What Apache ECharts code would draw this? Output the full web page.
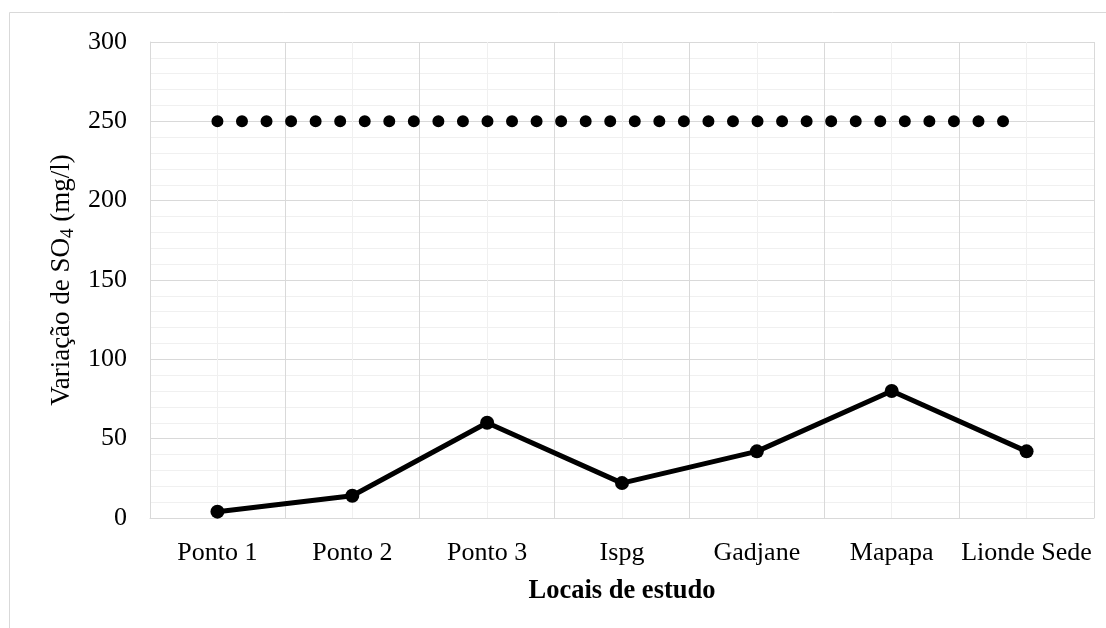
<!DOCTYPE html>
<html>
<head>
<meta charset="utf-8">
<script src="https://cdn.jsdelivr.net/npm/echarts@6/dist/echarts.min.js"></script>
<style>
html,body{margin:0;padding:0;background:#fff;}
#chart{width:1106px;height:628px;}
</style>
</head>
<body>
<div id="chart"></div>
<script>
var categories = ['Ponto 1', 'Ponto 2', 'Ponto 3', 'Ispg', 'Gadjane', 'Mapapa', 'Lionde Sede'];
var so4Values = [4, 14, 60, 22, 42, 80, 42];
var limitValues = [250, 250, 250, 250, 250, 250, 250];
var yTicks = [0, 50, 100, 150, 200, 250, 300];

var FONT = "'Liberation Serif', 'Times New Roman', serif";
var chart = echarts.init(document.getElementById('chart'), null, {renderer: 'canvas'});
chart.setOption({
  animation: false,
  backgroundColor: '#ffffff',
  graphic: [{
    type: 'rect', silent: true, z: -10,
    shape: {x: 9.5, y: 12.5, width: 1300, height: 800},
    style: {fill: 'none', stroke: '#d9d9d9', lineWidth: 1}
  }],
  grid: {left: 150, right: 12, top: 42, bottom: 110, containLabel: false},
  xAxis: [{
    type: 'value', position: 'top', min: 0, max: categories.length * 2, interval: 1,
    axisLine: {show: false}, axisTick: {show: false}, axisLabel: {show: false},
    splitLine: {show: true, lineStyle: {color: '#f0f0f0', width: 1}}
  }, {
    type: 'category', position: 'bottom', data: categories, boundaryGap: true,
    axisLine: {show: true, lineStyle: {color: '#d9d9d9', width: 1}},
    axisTick: {show: false},
    axisLabel: {color: '#000', fontFamily: FONT, fontSize: 26, margin: 22, interval: 0},
    splitLine: {show: true, lineStyle: {color: '#d9d9d9', width: 1}},
    name: 'Locais de estudo', nameLocation: 'middle', nameGap: 60,
    nameTextStyle: {color: '#000', fontFamily: FONT, fontSize: 26.5, fontWeight: 'bold'}
  }],
  yAxis: {
    type: 'value', min: yTicks[0], max: yTicks[yTicks.length - 1], interval: 50,
    axisLine: {show: true, lineStyle: {color: '#d9d9d9'}},
    axisTick: {show: false},
    axisLabel: {color: '#000', fontFamily: FONT, fontSize: 26, margin: 23},
    splitLine: {show: true, lineStyle: {color: '#d9d9d9', width: 1}},
    minorTick: {show: false, splitNumber: 5},
    minorSplitLine: {show: true, lineStyle: {color: '#f0f0f0', width: 1}},
    name: 'Variação de SO{sub|4} (mg/l)', nameLocation: 'middle', nameGap: 69, nameRotate: 90,
    nameTextStyle: {
      color: '#000', fontFamily: FONT, fontSize: 27, lineHeight: 30,
      rich: {sub: {fontFamily: FONT, fontSize: 19, color: '#000', verticalAlign: 'bottom', lineHeight: 19}}
    }
  },
  series: [{
    type: 'line', xAxisIndex: 1, data: limitValues,
    showSymbol: false, symbol: 'none',
    lineStyle: {color: '#000', width: 12, type: [0, 24.55], cap: 'round'},
    silent: true, z: 3
  }, {
    type: 'line', xAxisIndex: 1, data: so4Values,
    symbol: 'circle', symbolSize: 14, showSymbol: true,
    itemStyle: {color: '#000'},
    lineStyle: {color: '#000', width: 5},
    silent: true, z: 4
  }]
});
</script>
</body>
</html>
